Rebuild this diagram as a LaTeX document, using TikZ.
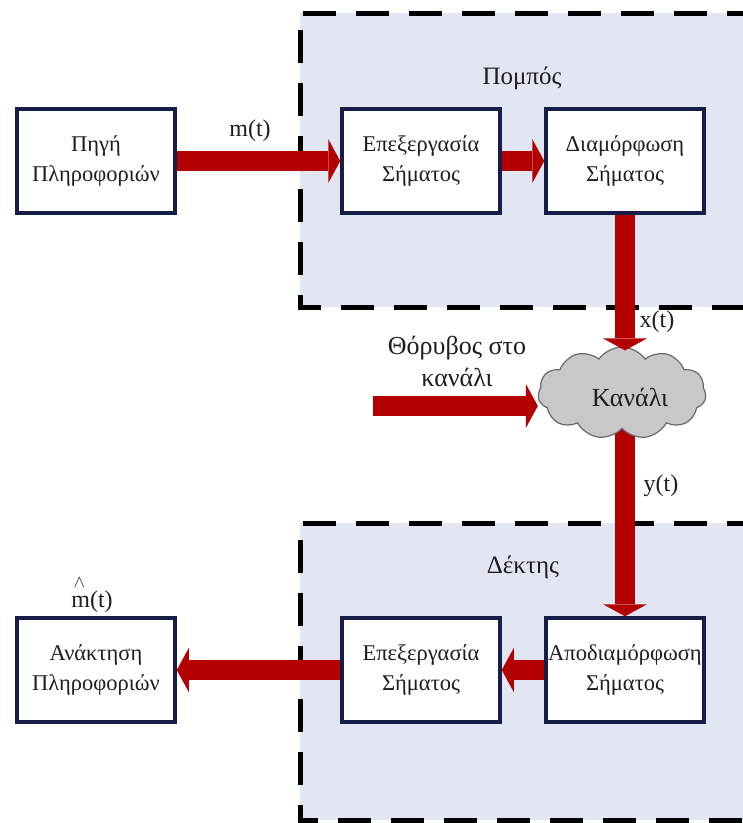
\documentclass[tikz,border=0pt]{standalone}
\usepackage{fontspec}
\setmainfont{Liberation Serif}
\usetikzlibrary{arrows.meta,shapes.symbols}

\definecolor{zonefill}{RGB}{225,230,242}
\definecolor{flowred}{RGB}{180,0,0}
\definecolor{boxnavy}{RGB}{22,30,72}
\definecolor{cloudfill}{RGB}{200,200,200}
\definecolor{cloudline}{RGB}{105,105,105}
\definecolor{inktext}{RGB}{30,30,30}

\begin{document}
\begin{tikzpicture}[x=1pt,y=-1pt,
  every node/.style={text=inktext},
  block/.style={draw=boxnavy, line width=3.5pt, fill=white,
    minimum width=158pt, minimum height=104pt, align=center, inner sep=0pt,
    font=\fontsize{22.5}{30}\selectfont},
  zone/.style={fill=zonefill},
  zoneedge/.style={draw=black, line width=5pt, dash pattern=on 33pt off 20pt},
  flow/.style={draw=flowred, line width=20pt,
    -{Triangle[width=44pt 0 0, length=12pt 0 0, line width=0pt 0 0]}},
  lbl/.style={font=\fontsize{24}{32}\selectfont, align=center, inner sep=0pt},
  biglbl/.style={font=\fontsize{26}{32}\selectfont, align=center, inner sep=0pt},
  zonetitle/.style={font=\fontsize{25}{30}\selectfont, inner sep=0pt},
]
\useasboundingbox (0,0) rectangle (743,823);
\fill[white] (0,0) rectangle (743,823);

% transmitter and receiver zones
\fill[zone] (300,13) rectangle (760,307);
\draw[zoneedge] (760,13) -- (300,13) -- (300,307) -- (760,307);
\fill[zone] (300,523) rectangle (760,820);
\draw[zoneedge] (760,523) -- (300,523) -- (300,820) -- (760,820);

\node[zonetitle] (txtitle) at (522,78) {Πομπός};
\node[zonetitle] (rxtitle) at (523,567) {Δέκτης};

% processing blocks
\node[block] (src)   at (96,161)  {Πηγή\\Πληροφοριών};
\node[block] (txproc) at (421,161) {Επεξεργασία\\Σήματος};
\node[block] (mod)   at (625,161) {Διαμόρφωση\\Σήματος};
\node[block] (sink)  at (96,670)  {Ανάκτηση\\Πληροφοριών};
\node[block] (rxproc) at (421,670) {Επεξεργασία\\Σήματος};
\node[block] (demod) at (625,670) {Αποδιαμόρφωση\\Σήματος};

% channel output leaves from under the cloud
\coordinate (chanout) at (625,420);
\draw[flow] (chanout) -- (demod.north);

% channel
\coordinate (noisetail) at (373,406);
\node[cloud, draw=cloudline, fill=cloudfill, line width=1.2pt, cloud puffs=11,
  cloud puff arc=110, aspect=1.8, minimum width=168pt, minimum height=92pt,
  inner sep=0pt] (chan) at (622,393) {};
\node[biglbl] (chanlabel) at (630,397) {Κανάλι};

% signal flow
\draw[flow] (src.east) -- (txproc.west);
\draw[flow] (txproc.east) -- (mod.west);
\draw[flow] (mod.south) -- ([yshift=-4pt]mod.south |- chan.north);
\draw[flow] (noisetail) -- (noisetail -| chan.west);
\draw[flow] (demod.west) -- (rxproc.east);
\draw[flow] (rxproc.west) -- (sink.east);

% signal labels
\node[lbl] (mlabel) at (250,131) {m(t)};
\node[lbl] (xlabel) at (657,322) {x(t)};
\node[lbl] (ylabel) at (661,486) {y(t)};
\node[biglbl] (noiselabel) at (457,361) {Θόρυβος στο\\κανάλι};
\node[lbl, anchor=base] (mhatlabel) at (92,607)
  {\makebox[0pt][l]{\hspace{0.1em}\raisebox{0.8em}{$\scriptstyle\wedge$}}m(t)};
\end{tikzpicture}
\end{document}
